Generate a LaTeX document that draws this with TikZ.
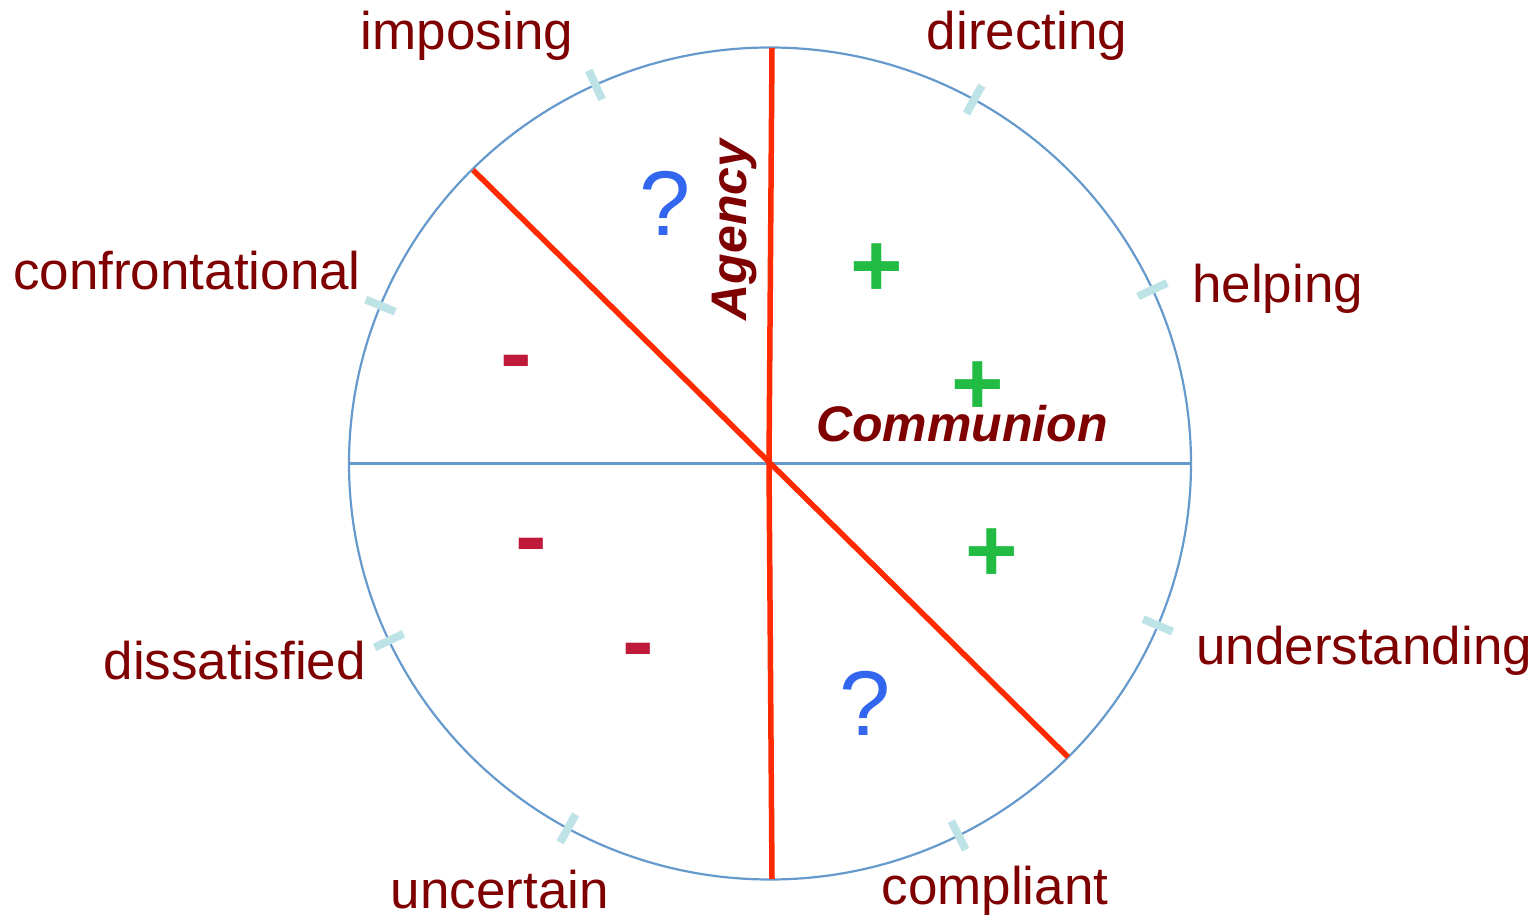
\documentclass[tikz,border=0pt]{standalone}
\usepackage{fontspec}
\setmainfont{Liberation Sans}
\definecolor{lab}{HTML}{7F0000}
\definecolor{circ}{HTML}{6699CC}
\definecolor{tickc}{HTML}{BDE3E6}
\definecolor{redl}{HTML}{FF2A00}
\definecolor{plusc}{HTML}{22BB44}
\definecolor{minusc}{HTML}{C01A3A}
\definecolor{qc}{HTML}{3366EE}
\tikzset{
  lbl/.style={text=lab, inner sep=0pt, font=\fontsize{53}{60}\selectfont},
  axislbl/.style={text=lab, inner sep=0pt, font=\fontsize{50}{56}\selectfont\bfseries\itshape},
  plussign/.style={text=plusc, inner sep=0pt, anchor=base, font=\fontsize{90}{100}\selectfont\bfseries},
  minussign/.style={text=minusc, inner sep=0pt, anchor=base, font=\fontsize{95}{100}\selectfont\bfseries},
  qsign/.style={text=qc, inner sep=0pt, anchor=base, font=\fontsize{92}{100}\selectfont},
  blueline/.style={draw=circ, line width=2.2pt},
  redline/.style={draw=redl, line width=5.5pt},
  tickmark/.style={draw=tickc, line width=8pt}
}
\begin{document}
\begin{tikzpicture}[x=1pt,y=1pt]
\useasboundingbox (0,0) rectangle (1539,916);
\coordinate (C) at (770,452.5);
\coordinate (T) at (770,868.5);
\coordinate (B) at (770,36.5);
\coordinate (L) at (349,452.5);
\coordinate (R) at (1191,452.5);
\coordinate (RT) at (772,868);
\coordinate (RB) at (772,37);
\coordinate (RC) at (769,452.5);
\coordinate (DUL) at (473,746);
\coordinate (DLR) at (1068,159);
% circle
\draw[blueline] (C) ellipse [x radius=421, y radius=416];
\draw[blueline] (L) -- (R);
\draw[blueline] (T) -- (B);
% ticks
\begin{scope}[shift={(770,452.5)}]
\foreach \t in {114.5,61,24.7,-22.9,-63.4,-118.7,-154.8,157.7}
  \draw[tickmark] (\t:405 and 400) -- (\t:437 and 432);
\end{scope}
% red lines
\draw[redline] (RT) -- (RC) -- (RB);
\draw[redline] (DUL) -- (DLR);
% labels
\node[lbl, anchor=base] (imp) at (467,866) {imposing};
\node[lbl, anchor=base] (dir) at (1027,866) {directing};
\node[lbl, anchor=base east] (con) at (361,626) {confrontational};
\node[lbl, anchor=base west] (hel) at (1192,613) {helping};
\node[lbl, anchor=base west] (und) at (1196,251) {understanding};
\node[lbl, anchor=base east] (dis) at (366,236) {dissatisfied};
\node[lbl, anchor=base] (unc) at (500,8) {uncertain};
\node[lbl, anchor=base] (com) at (995,12) {compliant};
\node[axislbl, anchor=base, rotate=90] (ag) at (746,686) {Agency};
\node[axislbl, anchor=base] (cm) at (962,474) {Communion};
% signs
\node[plussign] (p1) at (877,619.5) {+};
\node[plussign] (p2) at (978,501.5) {+};
\node[plussign] (p3) at (992,334.5) {+};
\node[minussign] (m1) at (516,530) {-};
\node[minussign] (m2) at (531,347) {-};
\node[minussign] (m3) at (638,242) {-};
\node[qsign] (q1) at (665,680) {?};
\node[qsign] (q2) at (865,180) {?};
\end{tikzpicture}
\end{document}
